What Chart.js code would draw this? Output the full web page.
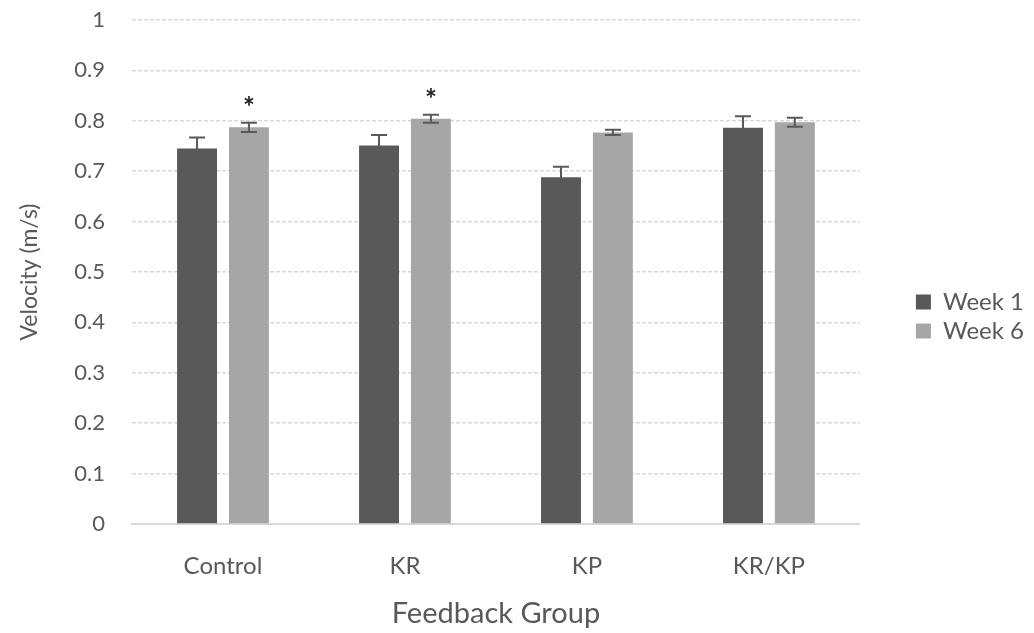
<!DOCTYPE html>
<html>
<head>
<meta charset="utf-8">
<script src="https://cdn.jsdelivr.net/npm/chart.js@4"></script>
<style>
  html, body { margin: 0; padding: 0; background: #fff; }
  #wrap { width: 1034px; height: 633px; }
</style>
</head>
<body>
<div id="wrap"><canvas id="graph" width="1034" height="633"></canvas></div>
<script>
// values
var groups = ['Control', 'KR', 'KP', 'KR/KP'];
var week1 = [0.745, 0.751, 0.688, 0.786];
var week1Err = [0.022, 0.021, 0.021, 0.023];
var week6 = [0.787, 0.804, 0.777, 0.797];
var week6Err = [0.009, 0.008, 0.005, 0.009];
var week6Star = [true, true, false, false];

var errorSets = [week1Err, week6Err];
var starSets = [[false, false, false, false], week6Star];

// draws the error bars and the significance stars on top of the bars
var errorBars = {
    id: 'errorBars',
    afterDatasetsDraw: function(chart) {
        var ctx = chart.ctx;
        var y = chart.scales.y;
        ctx.save();
        chart.data.datasets.forEach(function(ds, di) {
            var meta = chart.getDatasetMeta(di);
            meta.data.forEach(function(bar, i) {
                var v = ds.data[i];
                var e = errorSets[di][i];
                var top = y.getPixelForValue(v + e);
                var bot = y.getPixelForValue(v - e);
                ctx.strokeStyle = '#595959';
                ctx.lineWidth = 2;
                ctx.beginPath();
                ctx.moveTo(bar.x, top);
                ctx.lineTo(bar.x, bot);
                ctx.moveTo(bar.x - 8, top);
                ctx.lineTo(bar.x + 8, top);
                ctx.moveTo(bar.x - 8, bot);
                ctx.lineTo(bar.x + 8, bot);
                ctx.stroke();
                if (starSets[di][i]) {
                    ctx.fillStyle = '#222';
                    ctx.font = 'bold 28px Lato';
                    ctx.textAlign = 'center';
                    ctx.textBaseline = 'middle';
                    ctx.fillText('*', bar.x, top - 15);
                }
            });
        });
        ctx.restore();
    }
};

var ctx = document.getElementById('graph').getContext('2d');
var chart = new Chart(ctx, {
    type: 'bar',
    data: {
        labels: groups,
        datasets: [
            {
                label: 'Week 1',
                data: week1,
                backgroundColor: '#595959',
                categoryPercentage: 0.57,
                barPercentage: 0.77
            },
            {
                label: 'Week 6',
                data: week6,
                backgroundColor: '#a6a6a6',
                categoryPercentage: 0.57,
                barPercentage: 0.77
            }
        ]
    },
    options: {
        responsive: false,
        animation: false,
        layout: { padding: 0 },
        plugins: {
            tooltip: { enabled: false },
            legend: {
                position: 'right',
                labels: {
                    font: { family: 'Lato', size: 24, lineHeight: 1 },
                    color: '#595959',
                    boxWidth: 15,
                    boxHeight: 15,
                    padding: 5
                }
            }
        },
        scales: {
            x: {
                grid: { display: false },
                border: { color: '#d9d9d9', width: 2 },
                ticks: {
                    font: { family: 'Lato', size: 24 },
                    color: '#595959',
                    padding: 20
                },
                title: {
                    display: true,
                    text: 'Feedback Group',
                    font: { family: 'Lato', size: 29 },
                    color: '#595959',
                    padding: { top: 0, bottom: 2 }
                },
                afterFit: function(scale) { scale.height = 109; }
            },
            y: {
                min: 0,
                max: 1,
                ticks: {
                    stepSize: 0.1,
                    font: { family: 'Lato', size: 22 },
                    color: '#595959',
                    padding: 27,
                    callback: function(v) { return String(Number(v.toFixed(1))); }
                },
                grid: {
                    color: '#d9d9d9',
                    lineWidth: 1.5,
                    drawTicks: false
                },
                border: { display: false, dash: [4, 2] },
                title: {
                    display: true,
                    text: 'Velocity (m/s)',
                    font: { family: 'Lato', size: 23 },
                    color: '#595959',
                    padding: { top: 16, bottom: 0 }
                },
                afterFit: function(scale) {
                    scale.width = 132;
                    scale.paddingTop = 20; // room above the "1" label
                    scale.paddingBottom = 0;
                }
            },
            // empty spacer between the plot and the legend
            gap: {
                type: 'linear',
                position: 'right',
                display: true,
                grid: { display: false },
                ticks: { display: false },
                border: { display: false },
                afterFit: function(scale) {
                    scale.width = 51;
                    scale.paddingTop = 0;
                    scale.paddingBottom = 0;
                }
            }
        }
    },
    plugins: [errorBars]
});
</script>
</body>
</html>
